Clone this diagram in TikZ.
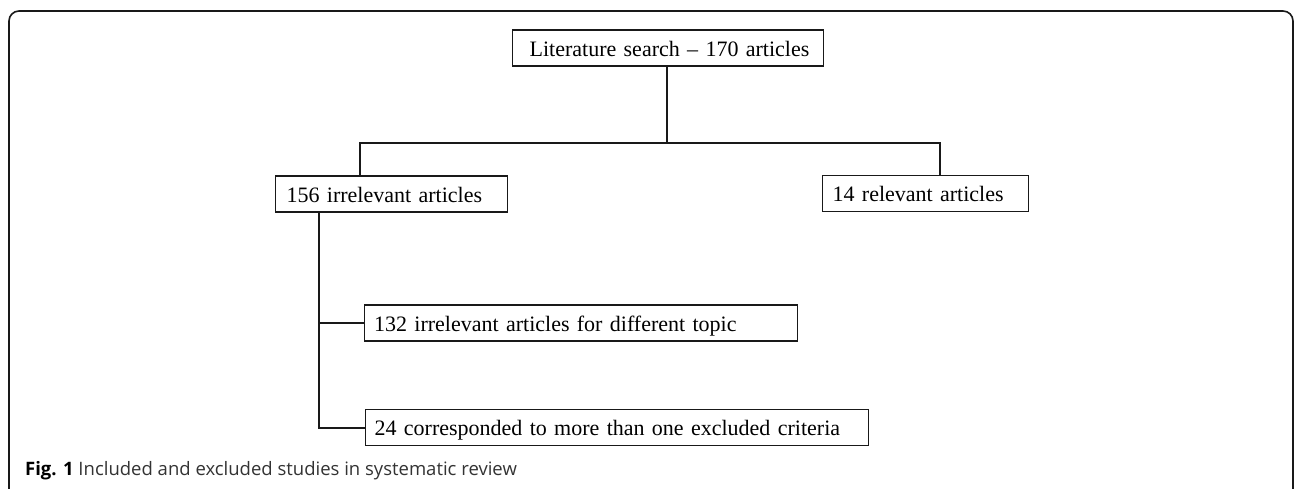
\documentclass[tikz,border=0pt]{standalone}
\usepackage{fontspec}
\setmainfont{Liberation Serif}
\newfontfamily\capfont{Open Sans}
\begin{document}
\begin{tikzpicture}[x=1pt,y=-1pt,
  box/.style={draw=black!90, line width=1.2pt, rectangle, minimum height=36pt, inner ysep=0pt,
    text height=16pt, text depth=0pt, align=left, font=\fontsize{22}{24}\selectfont, anchor=west},
  conn/.style={draw=black!90, line width=2pt},
  frame/.style={draw=black!90, line width=1.6pt, rounded corners=10pt}]
\useasboundingbox (0,0) rectangle (1295,488);
\draw[frame] (9,492) -- (9,11) -- (1293,11) -- (1293,492);
% boxes
\node[box, text width=277pt, inner xsep=17pt] (top) at (512,48) {\mbox{Literature search -- 170 articles}};
\node[box, text width=210pt, inner xsep=11pt] (irr) at (275,194) {\mbox{156 irrelevant articles}};
\node[box, text width=186pt, inner xsep=10pt] (rel) at (822,193.5) {\mbox{14 relevant articles}};
\node[box, text width=414pt, inner xsep=9.5pt] (diff) at (364,323) {\mbox{132 irrelevant articles for different topic}};
\node[box, text width=485pt, inner xsep=9pt] (crit) at (365,427.5) {\mbox{24 corresponded to more than one excluded criteria}};
% connectors
\coordinate (j) at (667,143);
\draw[conn] (top.south -| j) -- (j);
\draw[conn] (irr.north -| 360,0) |- (j) -| (rel.north -| 940,0);
\draw[conn] (irr.south -| 319,0) |- (crit.west);
\draw[conn] (diff.west) -- (diff.west -| 319,0);
% caption
\node[anchor=base west, inner sep=0pt, font=\capfont\fontsize{18.5}{22}\selectfont, text=black!80] (cap) at (25,475) {\textbf{\color{black}Fig. 1} Included and excluded studies in systematic review};
\end{tikzpicture}
\end{document}
